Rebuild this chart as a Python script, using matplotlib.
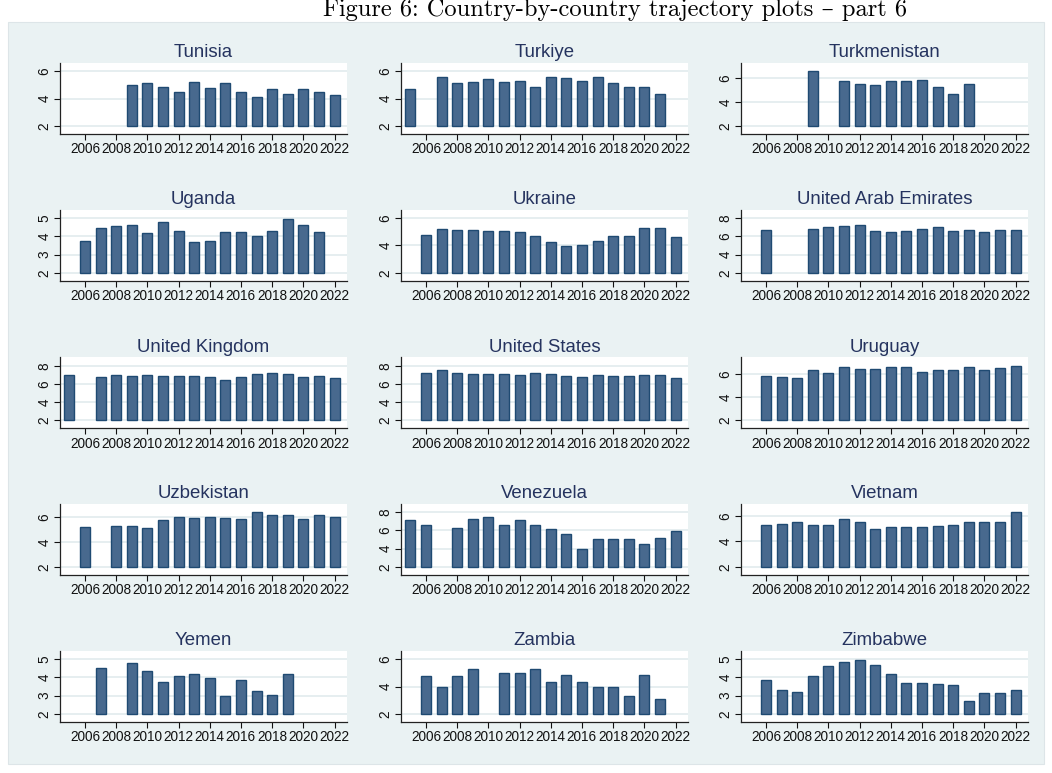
import numpy as np
import matplotlib.pyplot as plt

plt.rcParams["font.family"] = ["Liberation Sans", "DejaVu Sans"]

# Data: value per year 2005-2022, nan = missing
years = list(range(2005, 2023))
nan = np.nan

countries = ["Tunisia", "Turkiye", "Turkmenistan",
             "Uganda", "Ukraine", "United Arab Emirates",
             "United Kingdom", "United States", "Uruguay",
             "Uzbekistan", "Venezuela", "Vietnam",
             "Yemen", "Zambia", "Zimbabwe"]

tunisia = [nan, nan, nan, nan, 5.02, 5.12, 4.85, 4.46, 5.22, 4.76, 5.12, 4.51, 4.12, 4.71, 4.32, 4.71, 4.49, 4.27]
turkiye = [4.71, nan, 5.59, 5.10, 5.22, 5.44, 5.24, 5.29, 4.85, 5.59, 5.51, 5.29, 5.59, 5.17, 4.85, 4.85, 4.34, nan]
turkmenistan = [nan, nan, nan, nan, 6.56, nan, 5.78, 5.47, 5.38, 5.78, 5.78, 5.86, 5.22, 4.63, 5.50, nan, nan, nan]
uganda = [nan, 3.75, 4.47, 4.58, 4.61, 4.20, 4.81, 4.30, 3.71, 3.77, 4.25, 4.25, 4.03, 4.31, 4.95, 4.63, 4.25, nan]
ukraine = [nan, 4.77, 5.24, 5.14, 5.12, 5.04, 5.04, 4.99, 4.70, 4.28, 3.96, 4.04, 4.31, 4.70, 4.70, 5.26, 5.26, 4.63]
uae = [nan, 6.72, nan, nan, 6.83, 7.05, 7.13, 7.24, 6.62, 6.51, 6.62, 6.83, 7.05, 6.62, 6.72, 6.51, 6.72, 6.72]
uk = [7.03, nan, 6.81, 7.03, 6.92, 7.03, 6.88, 6.92, 6.92, 6.78, 6.48, 6.81, 7.14, 7.25, 7.14, 6.81, 6.88, 6.70]
us = [nan, 7.25, 7.55, 7.25, 7.14, 7.14, 7.14, 7.03, 7.25, 7.14, 6.88, 6.81, 7.03, 6.92, 6.92, 7.03, 7.00, 6.70]
uruguay = [nan, 5.80, 5.71, 5.65, 6.32, 6.09, 6.58, 6.43, 6.43, 6.58, 6.60, 6.17, 6.35, 6.35, 6.58, 6.35, 6.52, 6.69]
uzbekistan = [nan, 5.20, nan, 5.28, 5.28, 5.12, 5.76, 6.00, 5.92, 6.03, 5.95, 5.87, 6.40, 6.16, 6.16, 5.84, 6.16, 6.00]
venezuela = [7.15, 6.56, nan, 6.22, 7.22, 7.44, 6.56, 7.11, 6.56, 6.11, 5.56, 4.00, 5.04, 5.04, 5.04, 4.56, 5.11, 5.93]
vietnam = [nan, 5.30, 5.40, 5.50, 5.30, 5.30, 5.80, 5.50, 5.00, 5.10, 5.10, 5.10, 5.20, 5.30, 5.50, 5.50, 5.50, 6.30]
yemen = [nan, nan, 4.50, nan, 4.80, 4.35, 3.75, 4.05, 4.20, 3.95, 3.00, 3.85, 3.25, 3.05, 4.20, nan, nan, nan]
zambia = [nan, 4.80, 4.00, 4.75, 5.25, nan, 5.00, 5.00, 5.25, 4.35, 4.85, 4.35, 3.95, 4.00, 3.30, 4.85, 3.10, nan]
zimbabwe = [nan, 3.85, 3.30, 3.20, 4.05, 4.65, 4.85, 4.95, 4.70, 4.20, 3.70, 3.70, 3.65, 3.60, 2.70, 3.15, 3.15, 3.30]

series = [tunisia, turkiye, turkmenistan, uganda, ukraine, uae,
          uk, us, uruguay, uzbekistan, venezuela, vietnam,
          yemen, zambia, zimbabwe]

yticks = [[2, 4, 6], [2, 4, 6], [2, 4, 6],
          [2, 3, 4, 5], [2, 4, 6], [2, 4, 6, 8],
          [2, 4, 6, 8], [2, 4, 6, 8], [2, 4, 6],
          [2, 4, 6], [2, 4, 6, 8], [2, 4, 6],
          [2, 3, 4, 5], [2, 4, 6], [2, 3, 4, 5]]

xticks = list(range(2006, 2023, 2))
base = 2

# colours (Stata s2color look)
bg = "#EAF2F3"
bar_fill = "#48698E"
bar_edge = "#1F4A72"
title_col = "#25335F"
grid_col = "#E2EBEE"

W, H = 1052, 773
fig = plt.figure(figsize=(W / 100, H / 100), dpi=100)
fig.patch.set_facecolor("white")
fig.add_artist(plt.Rectangle((8 / W, 1 - 764 / H), 1036 / W, 742 / H,
                             transform=fig.transFigure, facecolor=bg,
                             edgecolor="#DDE5E8", lw=0.8, zorder=0))

fig.text(615 / W, 1 - 16 / H,
         "Figure 6: Country-by-country trajectory plots \u2013 part 6",
         family=["cmr10", "DejaVu Serif"], fontsize=17.6,
         ha="center", va="baseline")

col_left = [60, 401, 741]
row_top = [63, 210, 357.5, 504, 651]
ax_w, ax_h = 287, 71

for i, (name, vals) in enumerate(zip(countries, series)):
    r, c = divmod(i, 3)
    ax = fig.add_axes([col_left[c] / W, 1 - (row_top[r] + ax_h) / H,
                       ax_w / W, ax_h / H])
    ax.set_facecolor("white")
    v = np.array(vals)
    ax.bar(years, v - base, bottom=base, width=0.64,
           color=bar_fill, edgecolor=bar_edge, linewidth=1.0, zorder=3)

    hi = max(max(yticks[i]), np.nanmax(v))
    pad = 0.15 * (hi - base)
    ax.set_ylim(base - pad, hi + pad)
    ax.set_xlim(2004.4, 2022.8)
    ax.set_yticks(yticks[i])
    ax.set_xticks(xticks)
    ax.tick_params(axis="y", labelrotation=90, labelsize=9.8, length=4,
                   width=0.8, pad=2, colors="#111111")
    ax.tick_params(axis="x", labelsize=9.8, length=4, width=0.8, pad=2,
                   colors="#111111")
    for lab in ax.get_yticklabels():
        lab.set_va("center")
    ax.yaxis.grid(True, color=grid_col, linewidth=1.2, zorder=0)
    ax.set_axisbelow(True)
    for s in ["top", "right"]:
        ax.spines[s].set_visible(False)
    for s in ["left", "bottom"]:
        ax.spines[s].set_color("#222222")
        ax.spines[s].set_linewidth(0.9)
    ax.set_title(name, fontsize=13.4, color=title_col, pad=4)

fig.savefig("out.png", dpi=100)
